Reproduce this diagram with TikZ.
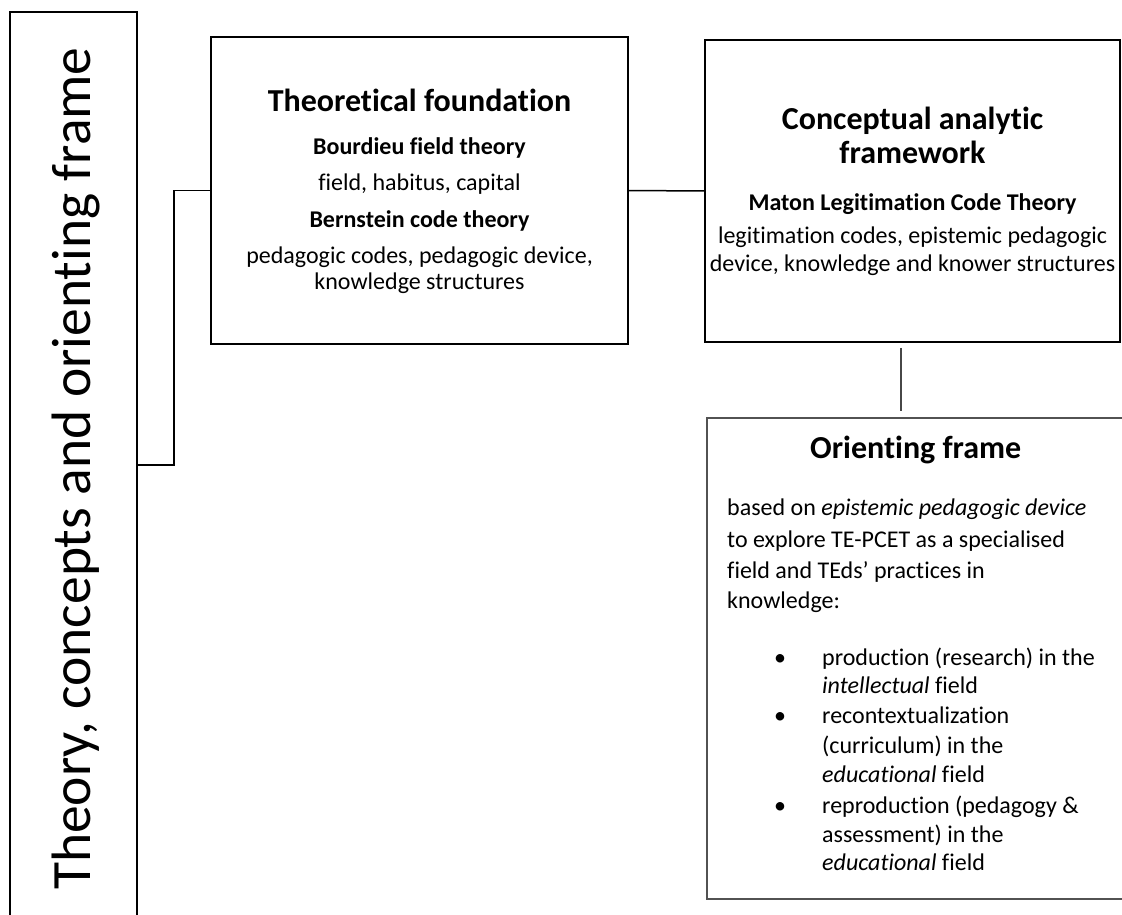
\documentclass[tikz,border=0pt]{standalone}
\usepackage{fontspec}
\setmainfont{Carlito}[Ligatures=NoCommon]
\begin{document}
\begin{tikzpicture}[x=1pt,y=-1pt,
  frame/.style={draw=black, line width=1.7pt, inner sep=0pt},
  softframe/.style={draw=black!68, line width=1.4pt, inner sep=0pt},
  link/.style={draw=black, line width=1.5pt},
  softlink/.style={draw=black!72, line width=1.4pt},
  head/.style={inner sep=0pt, font=\fontsize{32}{38}\selectfont\bfseries},
  sub/.style={inner sep=0pt, font=\fontsize{24}{29}\selectfont\bfseries},
  body/.style={inner sep=0pt, font=\fontsize{24}{29}\selectfont},
  side/.style={inner sep=0pt, font=\fontsize{55.5}{60}\selectfont}]
\clip (0,0) rectangle (1122,915);
\fill[white] (0,0) rectangle (1122,915);

% boxes
\node[frame, minimum width=127pt, minimum height=930pt] (side) at (73.5,477) {};
\node[frame, minimum width=417pt, minimum height=307pt] (theo) at (419.5,190.5) {};
\node[frame, minimum width=415pt, minimum height=302pt] (concept) at (912.5,191) {};
\node[softframe, minimum width=433pt, minimum height=481pt] (orient) at (923.5,658.5) {};

% vertical title
\node[side, rotate=90, anchor=base west] (sidetext) at (90,890) {Theory, concepts and orienting frame};

% connectors
\coordinate (elbow) at (174,465);
\coordinate (drop) at (901,0);
\draw[link] (side.east |- elbow) -- (elbow) |- (theo.west);
\draw[link] (theo.east) -- (concept.west);
\draw[softlink, shorten <=5pt, shorten >=6pt] (concept.south -| drop) -- (orient.north -| drop);

% theoretical foundation
\node[head, anchor=base] (t1) at (419.5,112) {Theoretical foundation};
\node[sub,  anchor=base] (t2) at (419.5,154) {Bourdieu field theory};
\node[body, anchor=base] (t3) at (419.5,190) {field, habitus, capital};
\node[sub,  anchor=base] (t4) at (419.5,227) {Bernstein code theory};
\node[body, anchor=base] (t5) at (419.5,263) {pedagogic codes, pedagogic device,};
\node[body, anchor=base] (t6) at (419.5,289) {knowledge structures};

% conceptual analytic framework
\node[head, anchor=base] (c1) at (912.5,130) {Conceptual analytic};
\node[head, anchor=base] (c2) at (912.5,164) {framework};
\node[sub,  anchor=base] (c3) at (912.5,210) {Maton Legitimation Code Theory};
\node[body, anchor=base] (c4) at (912.5,243) {legitimation codes, epistemic pedagogic};
\node[body, anchor=base] (c5) at (912.5,271) {device, knowledge and knower structures};

% orienting frame
\node[head, anchor=base west] (o1) at (810,458) {Orienting frame};
\node[body, anchor=base west] (o2) at (727,515) {based on \textit{epistemic pedagogic device}};
\node[body, anchor=base west] (o3) at (727,547) {to explore TE-PCET as a specialised};
\node[body, anchor=base west] (o4) at (727,578) {field and TEds’ practices in};
\node[body, anchor=base west] (o5) at (727,608) {knowledge:};

\node[body, anchor=base] (b1) at (780,665) {•};
\node[body, anchor=base] (b2) at (780,723) {•};
\node[body, anchor=base] (b3) at (780,813) {•};

\node[body, anchor=base west] (p1) at (822,665) {production (research) in the};
\node[body, anchor=base west] (p2) at (822,693) {\textit{intellectual} field};
\node[body, anchor=base west] (p3) at (822,723) {recontextualization};
\node[body, anchor=base west] (p4) at (822,753) {(curriculum) in the};
\node[body, anchor=base west] (p5) at (822,782) {\textit{educational} field};
\node[body, anchor=base west] (p6) at (822,813) {reproduction (pedagogy \&};
\node[body, anchor=base west] (p7) at (822,842) {assessment) in the};
\node[body, anchor=base west] (p8) at (822,870) {\textit{educational} field};
\end{tikzpicture}
\end{document}
